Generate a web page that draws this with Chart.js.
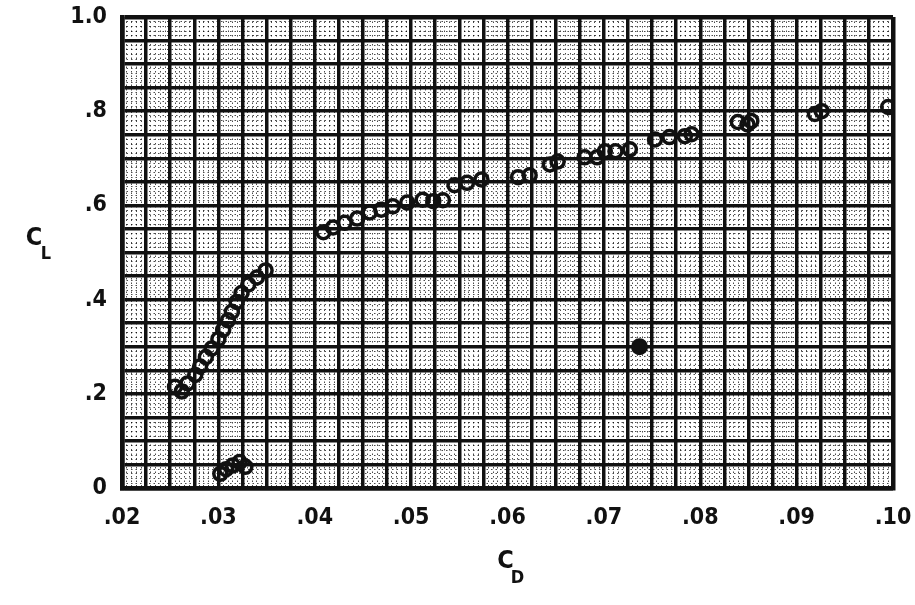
<!DOCTYPE html>
<html>
<head>
<meta charset="utf-8">
<script src="https://cdn.jsdelivr.net/npm/chart.js"></script>
<style>
  html, body { margin: 0; padding: 0; background: #fff; }
</style>
</head>
<body>
<canvas id="myChart" width="915" height="605"></canvas>
<script>
// drag polar: lift coefficient against drag coefficient
var cdValues = [
    0.0302, 0.0308, 0.0315, 0.0322, 0.0328,
    0.0255, 0.0262, 0.0268, 0.0276, 0.0281, 0.0287, 0.0293, 0.0300,
    0.0305, 0.0310, 0.0314, 0.0319, 0.0324, 0.0331, 0.0340, 0.0349,
    0.0409, 0.0419, 0.0431, 0.0444, 0.0457, 0.0469, 0.0481, 0.0496,
    0.0512, 0.0523, 0.0533, 0.0545, 0.0558, 0.0573,
    0.0611, 0.0623, 0.0644, 0.0652, 0.0680, 0.0693, 0.0701, 0.0712,
    0.0727, 0.0753, 0.0768, 0.0784, 0.0791, 0.0839, 0.0849, 0.0853,
    0.0919, 0.0926, 0.0995
];
var clValues = [
    0.030, 0.040, 0.048, 0.055, 0.045,
    0.215, 0.205, 0.222, 0.240, 0.258, 0.278, 0.296, 0.316,
    0.336, 0.356, 0.374, 0.395, 0.414, 0.432, 0.447, 0.462,
    0.543, 0.553, 0.563, 0.572, 0.585, 0.591, 0.598, 0.606,
    0.612, 0.609, 0.611, 0.643, 0.648, 0.655,
    0.660, 0.664, 0.687, 0.693, 0.702, 0.702, 0.715, 0.715,
    0.719, 0.740, 0.745, 0.747, 0.751, 0.777, 0.772, 0.779,
    0.794, 0.800, 0.809
];
// single stray run
var cdStray = [0.0737];
var clStray = [0.300];

var xTickLabels = ['.02', '.03', '.04', '.05', '.06', '.07', '.08', '.09', '.10'];
var yTickLabels = ['0', '.2', '.4', '.6', '.8', '1.0'];

var FONT = '"Liberation Sans Narrow", "DejaVu Sans Condensed", "Roboto", sans-serif';
var INK = '#111';

function toPoints(xs, ys){
    var pts = [];
    for (var i = 0; i < xs.length; i++) pts.push({x: xs[i], y: ys[i]});
    return pts;
}

// label only every 0.01 on x and every 0.2 on y
function labelFor(value, start, step, labels){
    var k = (value - start) / step;
    if (Math.abs(k - Math.round(k)) > 1e-6) return '';
    var idx = Math.round(k);
    return labels[idx] !== undefined ? labels[idx] : '';
}

function edgeWidth(c){
    var n = c.scale.ticks.length;
    return (c.index === 0 || c.index === n - 1) ? 4.5 : 3.5;
}

// fixed axis box, no extra room for overhanging labels
function fixBox(w, h){
    return function(s){
        if (w !== null) s.width = w;
        if (h !== null) s.height = h;
        s.paddingTop = 0; s.paddingBottom = 0;
        s.paddingLeft = 0; s.paddingRight = 0;
    };
}

// draws C_L and C_D with subscripts
var axisSymbols = {
    id: 'axisSymbols',
    afterDraw: function(chart){
        var ctx = chart.ctx, a = chart.chartArea;
        var midY = (a.top + a.bottom) / 2;
        var midX = (a.left + a.right) / 2;
        ctx.save();
        ctx.fillStyle = INK;
        ctx.textAlign = 'center';
        ctx.textBaseline = 'middle';
        ctx.font = 'bold 25px ' + FONT;
        ctx.fillText('C', a.left - 88, midY - 14);
        ctx.fillText('C', midX - 2, a.bottom + 73);
        ctx.font = 'bold 18px ' + FONT;
        ctx.fillText('L', a.left - 76, midY + 2);
        ctx.fillText('D', midX + 10, a.bottom + 90);
        ctx.restore();
    }
};

var ctx = document.getElementById('myChart');
var polarChart = new Chart(ctx, {
    type: 'scatter',
    data: {
        datasets: [{
            data: toPoints(cdValues, clValues),
            pointStyle: 'circle',
            pointRadius: 6.5,
            borderWidth: 3.5,
            borderColor: INK,
            backgroundColor: 'rgba(255,255,255,0)'
        }, {
            data: toPoints(cdStray, clStray),
            pointStyle: 'circle',
            pointRadius: 7,
            borderWidth: 3,
            borderColor: INK,
            backgroundColor: INK
        }]
    },
    options: {
        responsive: false,
        animation: false,
        layout: { padding: { top: 17, right: 22, bottom: 0, left: 0 } },
        plugins: {
            legend: { display: false },
            tooltip: { enabled: false }
        },
        scales: {
            // fine dotted ruling of the graph paper
            xf: {
                type: 'linear', position: 'bottom', min: 0.02, max: 0.10,
                ticks: { display: false, stepSize: 0.0005 },
                grid: { color: 'rgba(0,0,0,0.7)', lineWidth: 1, drawTicks: false, z: -2 },
                border: { display: false, dash: [1.5, 3] },
                afterFit: fixBox(null, 0)
            },
            yf: {
                type: 'linear', position: 'left', min: 0, max: 1,
                ticks: { display: false, stepSize: 0.01 },
                grid: { color: 'rgba(0,0,0,0.7)', lineWidth: 1, drawTicks: false, z: -2 },
                border: { display: false, dash: [1.5, 3] },
                afterFit: fixBox(0, null)
            },
            x: {
                type: 'linear', position: 'bottom', min: 0.02, max: 0.10,
                ticks: {
                    stepSize: 0.0025, autoSkip: false, maxRotation: 0, padding: 16,
                    color: INK, font: { family: FONT, size: 23, weight: 'bold' },
                    callback: function(v){ return labelFor(v, 0.02, 0.01, xTickLabels); }
                },
                grid: { color: INK, lineWidth: edgeWidth, drawTicks: false },
                border: { display: true, color: INK, width: 4.5 },
                afterFit: fixBox(null, 117)
            },
            y: {
                type: 'linear', position: 'left', min: 0, max: 1,
                ticks: {
                    stepSize: 0.05, autoSkip: false, padding: 15,
                    color: INK, font: { family: FONT, size: 23, weight: 'bold' },
                    callback: function(v){ return labelFor(v, 0, 0.2, yTickLabels); }
                },
                grid: { color: INK, lineWidth: edgeWidth, drawTicks: false },
                border: { display: true, color: INK, width: 4.5 },
                afterFit: fixBox(122, null)
            }
        }
    },
    plugins: [axisSymbols]
});
</script>
</body>
</html>
